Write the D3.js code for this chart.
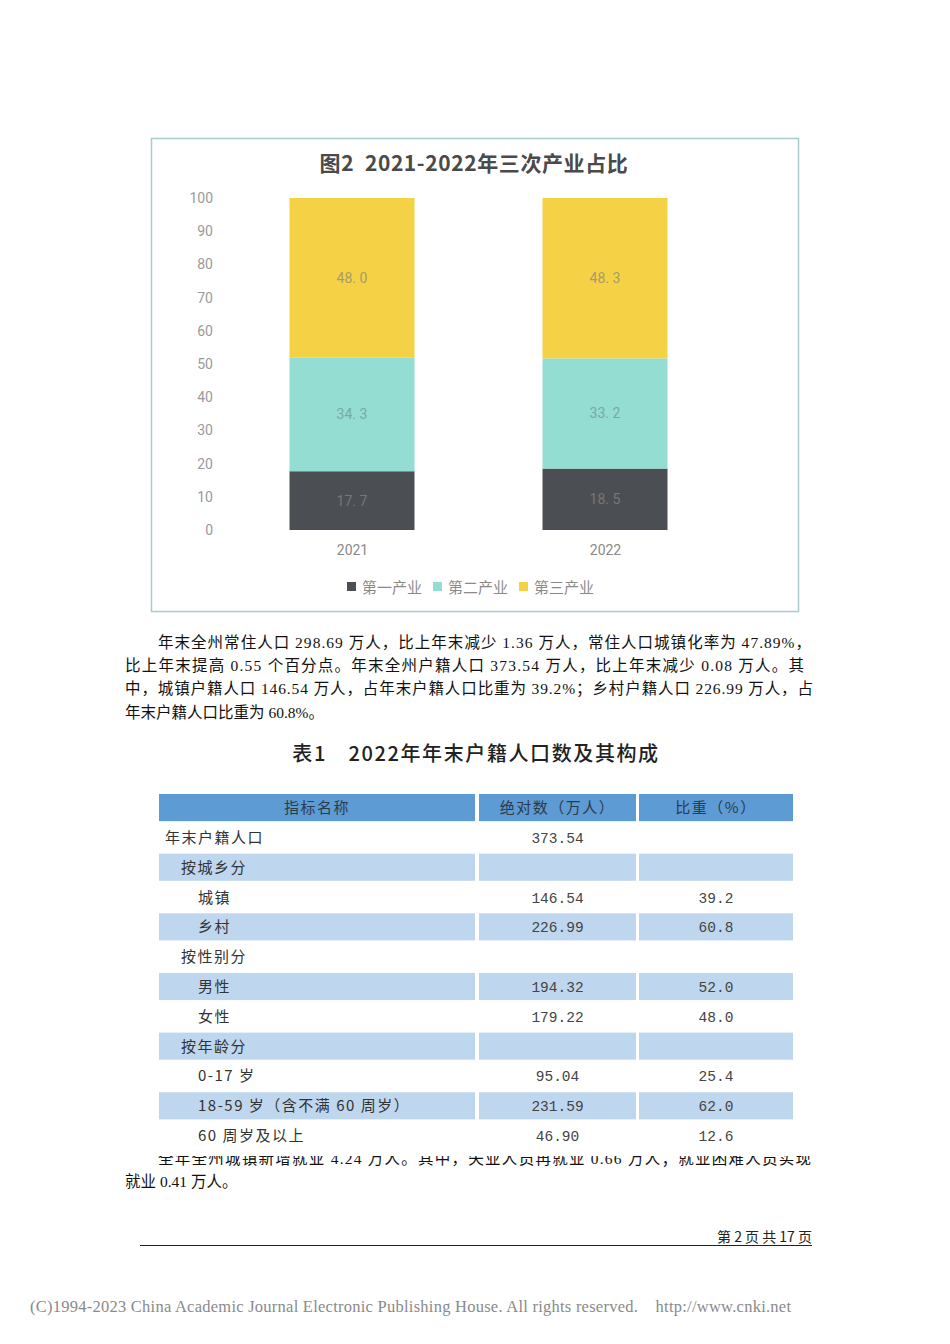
<!DOCTYPE html>
<html><head><meta charset="utf-8">
<script src="https://cdn.jsdelivr.net/npm/d3@7"></script>
<style>body{margin:0;background:#fff}svg{display:block}</style>
</head><body><script>
// ---------- data ----------
const years = ["2021", "2022"];
const primary = [17.7, 18.5];
const secondary = [34.3, 33.2];
const tertiary = [48.0, 48.3];
const seriesNames = ["第一产业", "第二产业", "第三产业"];
const seriesColors = ["#4b4e53", "#93ddd3", "#f5d245"];
const yTicks = [0, 10, 20, 30, 40, 50, 60, 70, 80, 90, 100];
const chartTitle = "图2  2021-2022年三次产业占比";

const paraLines = [
  "年末全州常住人口 298.69 万人，比上年末减少 1.36 万人，常住人口城镇化率为 47.89%，",
  "比上年末提高 0.55 个百分点。年末全州户籍人口 373.54 万人，比上年末减少 0.08 万人。其",
  "中，城镇户籍人口 146.54 万人，占年末户籍人口比重为 39.2%；乡村户籍人口 226.99 万人，占",
  "年末户籍人口比重为 60.8%。"
];
const tableTitle = "表1　2022年年末户籍人口数及其构成";
const tableHeaders = ["指标名称", "绝对数（万人）", "比重（%）"];
const rowNames = ["年末户籍人口", "按城乡分", "城镇", "乡村", "按性别分", "男性", "女性", "按年龄分", "0-17 岁", "18-59 岁（含不满 60 周岁）", "60 周岁及以上"];
const rowLevels = [0, 1, 2, 2, 1, 2, 2, 1, 2, 2, 2];
const rowValues = ["373.54", "", "146.54", "226.99", "", "194.32", "179.22", "", "95.04", "231.59", "46.90"];
const rowShares = ["", "", "39.2", "60.8", "", "52.0", "48.0", "", "25.4", "62.0", "12.6"];
const tailLines = [
  "全年全州城镇新增就业 4.24 万人。其中，失业人员再就业 0.66 万人；就业困难人员实现",
  "就业 0.41 万人。"
];
const pageNote = "第 2 页 共 17 页";
const copyright = "(C)1994-2023 China Academic Journal Electronic Publishing House. All rights reserved.    http://www.cnki.net";

// ---------- page ----------
const W = 950, H = 1344;
const svg = d3.select("body").append("svg").attr("width", W).attr("height", H);
svg.append("rect").attr("width", W).attr("height", H).attr("fill", "#fff");

const sans = "'Noto Sans CJK SC','Noto Sans',sans-serif";
const serif = "'Liberation Serif','Noto Sans CJK SC',serif";
const numFont = "Roboto,'Noto Sans',sans-serif";

// chart frame
svg.append("rect").attr("x", 151.5).attr("y", 138.5).attr("width", 647).attr("height", 473)
  .attr("fill", "#fff").attr("stroke", "#a9cccc").attr("stroke-width", 1.5);

svg.append("text").attr("x", 474).attr("y", 171).attr("text-anchor", "middle")
  .attr("font-family", sans).attr("font-size", 21).attr("font-weight", 700).attr("fill", "#4a4a4a")
  .attr("letter-spacing", 0.6).attr("xml:space", "preserve")
  .text(chartTitle);

const xs = d3.scalePoint().domain(years).range([352, 605]);
const barW = 125;
const y = d3.scaleLinear().domain([0, 100]).range([530, 198]);

const yAxis = d3.axisLeft(y).tickValues(yTicks).tickSize(0).tickPadding(0);
const gy = svg.append("g").attr("transform", "translate(213,0)").call(yAxis);
gy.select(".domain").remove();
gy.selectAll("text").attr("font-family", numFont).attr("font-size", 14).attr("fill", "#9a9a9a");

const stackData = years.map((yr, i) => ({ year: yr, p: primary[i], s: secondary[i], t: tertiary[i] }));
const stack = d3.stack().keys(["p", "s", "t"])(stackData);
const labelColors = ["#777", "#7aa9a4", "#a89a6a"];
stack.forEach((layer, li) => {
  const g = svg.append("g");
  g.selectAll("rect").data(layer).join("rect")
    .attr("x", d => xs(d.data.year) - barW / 2)
    .attr("width", barW)
    .attr("y", d => y(d[1]))
    .attr("height", d => y(d[0]) - y(d[1]))
    .attr("fill", seriesColors[li]);
  g.selectAll("text").data(layer).join("text")
    .attr("x", d => xs(d.data.year))
    .attr("y", d => (y(d[0]) + y(d[1])) / 2 + 5)
    .attr("text-anchor", "middle")
    .attr("font-family", numFont).attr("font-size", 14)
    .attr("fill", labelColors[li])
    .text(d => (d[1] - d[0]).toFixed(1).replace(".", ". "));
});

const xAxis = d3.axisBottom(xs).tickSize(0).tickPadding(0);
const gx = svg.append("g").attr("transform", "translate(0,555)").call(xAxis);
gx.select(".domain").remove();
gx.selectAll("text").attr("font-family", numFont).attr("font-size", 14).attr("fill", "#8a8a8a").attr("dy", 0);

// legend
const legX = [347, 433, 519];
seriesNames.forEach((n, i) => {
  svg.append("rect").attr("x", legX[i]).attr("y", 582).attr("width", 9).attr("height", 9).attr("fill", seriesColors[i]);
  svg.append("text").attr("x", legX[i] + 15).attr("y", 592.5).attr("font-family", sans).attr("font-size", 15)
    .attr("fill", "#8a8a8a").text(n);
});

// paragraph
const paraX = [158, 125, 125, 125];
const paraEnd = [811, 804, 813, null];
paraLines.forEach((t, i) => {
  const tx = svg.append("text").attr("x", paraX[i]).attr("y", 648 + i * 23.2)
    .attr("font-family", serif).attr("font-size", 15.5).attr("fill", "#111").text(t);
  if (paraEnd[i]) tx.attr("textLength", paraEnd[i] - paraX[i]).attr("lengthAdjust", "spacing");
});

// table title
svg.append("text").attr("x", 476).attr("y", 761).attr("text-anchor", "middle")
  .attr("font-family", sans).attr("font-size", 20).attr("font-weight", 500).attr("fill", "#222")
  .attr("letter-spacing", 1.6).text(tableTitle);

// tail text (partially covered by table image)
svg.append("clipPath").attr("id", "tailclip").append("rect").attr("x", 0).attr("y", 1156).attr("width", W).attr("height", 40);
tailLines.forEach((t, i) => {
  const tx = svg.append("text").attr("x", i === 0 ? 158 : 125).attr("y", 1164 + i * 23)
    .attr("font-family", serif).attr("font-size", 15.5).attr("fill", "#111").text(t);
  if (i === 0) tx.attr("clip-path", "url(#tailclip)").attr("textLength", 811 - 158).attr("lengthAdjust", "spacing");
});

// table
const colX = [159, 479, 639];
const colW = [316, 157, 154];
const rowY = d3.scaleBand().domain(d3.range(rowNames.length + 1)).range([794, 794 + 29.6 * 12]).paddingInner(0.09);
const tbl = svg.append("g");
tableHeaders.forEach((h, c) => {
  tbl.append("rect").attr("x", colX[c]).attr("y", rowY(0)).attr("width", colW[c]).attr("height", rowY.bandwidth()).attr("fill", "#5c9bd4");
  tbl.append("text").attr("x", colX[c] + colW[c] / 2).attr("y", rowY(0) + rowY.bandwidth() / 2 + 5.5)
    .attr("text-anchor", "middle").attr("font-family", sans).attr("font-size", 15).attr("fill", "#2e3a4a")
    .attr("letter-spacing", 1.5).text(h);
});
const indent = [165, 181, 198];
rowNames.forEach((n, r) => {
  const yy = rowY(r + 1), hh = rowY.bandwidth();
  if (r % 2 === 1) {
    colX.forEach((cx, c) => tbl.append("rect").attr("x", cx).attr("y", yy).attr("width", colW[c]).attr("height", hh).attr("fill", "#bed7ee"));
  }
  const ty = yy + hh / 2 + 5.5;
  tbl.append("text").attr("x", indent[rowLevels[r]]).attr("y", ty).attr("font-family", sans)
    .attr("font-size", 15).attr("fill", "#333").attr("letter-spacing", 1.5).text(n);
  tbl.append("text").attr("x", colX[1] + colW[1] / 2).attr("y", ty).attr("text-anchor", "middle")
    .attr("font-family", "'Liberation Mono','DejaVu Sans Mono',monospace").attr("font-size", 14.5).attr("fill", "#444")
    .text(rowValues[r]);
  tbl.append("text").attr("x", colX[2] + colW[2] / 2).attr("y", ty).attr("text-anchor", "middle")
    .attr("font-family", "'Liberation Mono','DejaVu Sans Mono',monospace").attr("font-size", 14.5).attr("fill", "#444")
    .text(rowShares[r]);
});

// footer
svg.append("text").attr("x", 812).attr("y", 1242).attr("text-anchor", "end")
  .attr("font-family", sans).attr("font-size", 14).attr("fill", "#222").text(pageNote);
svg.append("line").attr("x1", 140).attr("x2", 812).attr("y1", 1245.5).attr("y2", 1245.5).attr("stroke", "#222").attr("stroke-width", 1);
svg.append("text").attr("x", 30).attr("y", 1312).attr("font-family", serif).attr("font-size", 16.5)
  .attr("fill", "#8a8a8a").attr("textLength", 761).attr("lengthAdjust", "spacing").attr("xml:space", "preserve").text(copyright);
</script></body></html>
